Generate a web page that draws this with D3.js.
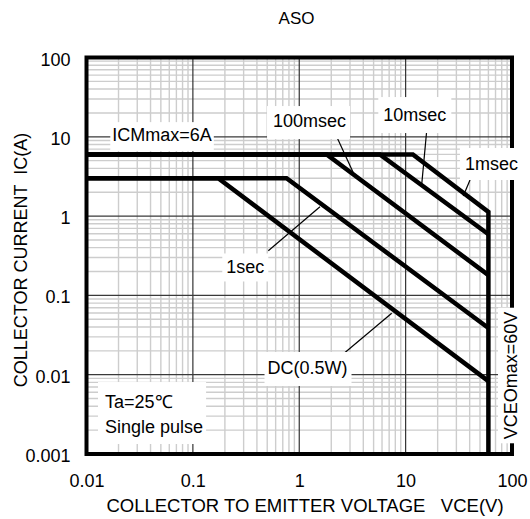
<!DOCTYPE html>
<html>
<head>
<meta charset="utf-8">
<script src="https://cdn.jsdelivr.net/npm/d3@7"></script>
<style>
  html, body { margin: 0; padding: 0; background: #fff; }
  svg { display: block; font-family: "Liberation Sans", Arial, sans-serif; }
</style>
</head>
<body>
<div id="chart"></div>
<script>
// axis ticks
const xTicks = [0.01, 0.1, 1, 10, 100];
const xTickLabels = ["0.01", "0.1", "1", "10", "100"];
const yTicks = [0.001, 0.01, 0.1, 1, 10, 100];
const yTickLabels = ["0.001", "0.01", "0.1", "1", "10", "100"];

// safe operating area curves, [VCE (V), IC (A)]
const outline = [[0.01, 6], [11.7, 6], [60, 1.13], [60, 0.001]]; // ICMmax + 1msec + VCEOmax
const pulse10ms = [[0.01, 6], [5.73, 6], [60, 0.59]];
const pulse100ms = [[0.01, 6], [1.81, 6], [60, 0.18]];
const pulse1s = [[0.01, 3], [0.76, 3], [60, 0.0388]];
const dcLine = [[0.01, 3], [0.173, 3], [60, 0.0083]];
const curves = [outline, pulse10ms, pulse100ms, pulse1s, dcLine];

// annotations (anchors in data units)
const labelTexts = ["ICMmax=6A", "100msec", "10msec", "1msec", "1sec", "DC(0.5W)"];
const labelAnchors = [[0.0513, 10.5], [1.25, 15.8], [12.2, 18.8], [64.1, 4.54], [0.311, 0.225], [1.196, 0.01215]];
const leaders = [
  [[2.25, 10.0], [3.27, 3.37]],
  [[15.8, 12.2], [14.2, 2.59]],
  [[40.3, 2.85], [34.8, 1.79]],
  [[0.512, 0.366], [1.567, 1.31]],
  [[2.59, 0.01824], [7.4, 0.0595]]
];

const width = 530, height = 519;
const svg = d3.select("#chart").append("svg")
  .attr("width", width)
  .attr("height", height);

const x = d3.scaleLog().domain([0.01, 100]).range([86.5, 512]);
const y = d3.scaleLog().domain([0.001, 100]).range([454, 57.5]);

// grid
const grid = svg.append("g");
const isDecade = v => Math.abs(Math.log10(v) - Math.round(Math.log10(v))) < 1e-9;
const xMinor = x.ticks().filter(v => !isDecade(v));
const yMinor = y.ticks().filter(v => !isDecade(v));

grid.selectAll(".vx").data(xMinor).join("line")
  .attr("x1", d => x(d)).attr("x2", d => x(d))
  .attr("y1", y(0.001)).attr("y2", y(100))
  .attr("stroke", "#cdcdcd").attr("stroke-width", 1.4);
grid.selectAll(".hy").data(yMinor).join("line")
  .attr("x1", x(0.01)).attr("x2", x(100))
  .attr("y1", d => y(d)).attr("y2", d => y(d))
  .attr("stroke", "#cdcdcd").attr("stroke-width", 1.4);
grid.selectAll(".vxm").data(xTicks).join("line")
  .attr("x1", d => x(d)).attr("x2", d => x(d))
  .attr("y1", y(0.001)).attr("y2", y(100))
  .attr("stroke", "#333").attr("stroke-width", 1.2);
grid.selectAll(".hym").data(yTicks).join("line")
  .attr("x1", x(0.01)).attr("x2", x(100))
  .attr("y1", d => y(d)).attr("y2", d => y(d))
  .attr("stroke", "#3a3a3a").attr("stroke-width", 1.2);

// frame
svg.append("rect")
  .attr("x", x(0.01)).attr("y", y(100))
  .attr("width", x(100) - x(0.01)).attr("height", y(0.001) - y(100))
  .attr("fill", "none").attr("stroke", "#000").attr("stroke-width", 4);

// curves
const line = d3.line().x(d => x(d[0])).y(d => y(d[1]));
svg.append("g").selectAll("path").data(curves).join("path")
  .attr("d", line)
  .attr("fill", "none")
  .attr("stroke", "#000")
  .attr("stroke-width", 4.5);

// leader lines
svg.append("g").selectAll("line").data(leaders).join("line")
  .attr("x1", d => x(d[0][0])).attr("y1", d => y(d[0][1]))
  .attr("x2", d => x(d[1][0])).attr("y2", d => y(d[1][1]))
  .attr("stroke", "#000").attr("stroke-width", 1.2);

// boxed labels
function boxLabel(g, pad) {
  const b = g.node().getBBox();
  g.insert("rect", ":first-child")
    .attr("x", b.x - pad[3]).attr("y", b.y - pad[0])
    .attr("width", b.width + pad[1] + pad[3])
    .attr("height", b.height + pad[0] + pad[2])
    .attr("fill", "#fff");
}

const labelPads = [[3, 2, 6, 2], [5, 4, 8, 6], [8, 5, 8, 5], [6, 4, 6, 5], [4, 4, 4, 4], [6, 4, 8, 3]];
labelTexts.forEach((t, i) => {
  const g = svg.append("g");
  g.append("text")
    .attr("x", x(labelAnchors[i][0])).attr("y", y(labelAnchors[i][1]))
    .attr("text-anchor", "middle")
    .attr("dominant-baseline", "central")
    .attr("font-size", 18)
    .text(t);
  boxLabel(g, labelPads[i]);
});

// VCEOmax label (vertical)
const vPos = `translate(${x(97.9)},${y(0.00977)}) rotate(-90)`;
const gv = svg.append("g");
const vText = gv.append("text")
  .attr("transform", vPos)
  .attr("text-anchor", "middle")
  .attr("dominant-baseline", "central")
  .attr("font-size", 18)
  .text("VCEOmax=60V");
const vb = vText.node().getBBox();
gv.insert("rect", ":first-child")
  .attr("transform", vPos)
  .attr("x", vb.x - 4).attr("y", vb.y - 3)
  .attr("width", vb.width + 8).attr("height", vb.height + 4)
  .attr("fill", "#fff");

// condition note
const gn = svg.append("g");
const note = gn.append("text").attr("font-size", 18);
note.append("tspan").attr("x", x(0.01493)).attr("y", y(0.0038)).text("Ta=25℃");
note.append("tspan").attr("x", x(0.01493)).attr("y", y(0.00184)).text("Single pulse");
boxLabel(gn, [10, 3, 7, 7]);

// axes
const xAxis = svg.append("g")
  .attr("transform", `translate(0,${y(0.001)})`)
  .call(d3.axisBottom(x).tickValues(xTicks).tickFormat((d, i) => xTickLabels[i]).tickSize(0).tickPadding(20));
xAxis.select(".domain").remove();
xAxis.selectAll("text").attr("font-size", 18).attr("font-family", null).attr("fill", "#000");

const yAxis = svg.append("g")
  .attr("transform", `translate(${x(0.01)},0)`)
  .call(d3.axisLeft(y).tickValues(yTicks).tickFormat((d, i) => yTickLabels[i]).tickSize(0).tickPadding(16));
yAxis.select(".domain").remove();
yAxis.selectAll("text").attr("font-size", 18).attr("font-family", null).attr("fill", "#000").attr("dy", "0.42em");

// titles
svg.append("text")
  .attr("x", 296.5).attr("y", 24)
  .attr("text-anchor", "middle")
  .attr("font-size", 17)
  .text("ASO");

svg.append("text")
  .attr("x", 305).attr("y", 512)
  .attr("text-anchor", "middle")
  .attr("font-size", 18.5)
  .style("white-space", "pre")
  .text("COLLECTOR TO EMITTER VOLTAGE   VCE(V)");

svg.append("text")
  .attr("transform", "translate(27,260) rotate(-90)")
  .attr("text-anchor", "middle")
  .attr("font-size", 18)
  .style("white-space", "pre")
  .text("COLLECTOR CURRENT  IC(A)");
</script>
</body>
</html>
